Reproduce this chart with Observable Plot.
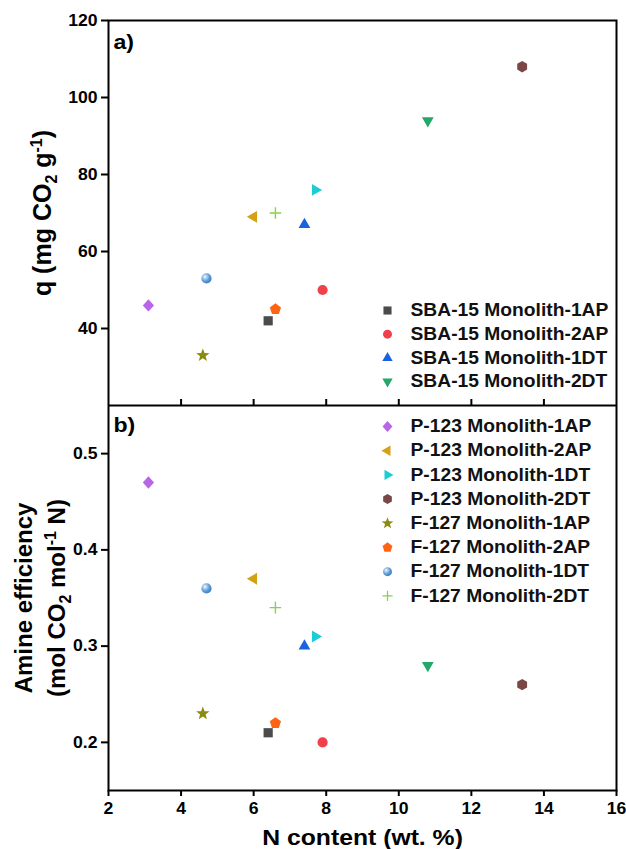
<!DOCTYPE html>
<html><head><meta charset="utf-8">
<script src="https://cdn.jsdelivr.net/npm/d3@7"></script>
<script src="https://cdn.jsdelivr.net/npm/@observablehq/plot@0.6"></script>
<style>
html,body{margin:0;padding:0;background:#fff;overflow:hidden}
#chart{width:626px;height:849px;position:relative}
#chart svg{display:block}
</style></head><body>
<svg width="0" height="0" style="position:absolute"><defs>
<radialGradient id="sphereGrad" cx="0.36" cy="0.34" r="0.72">
<stop offset="0" stop-color="#ffffff"/>
<stop offset="0.22" stop-color="#b3d3f2"/>
<stop offset="0.6" stop-color="#5c9ad6"/>
<stop offset="1" stop-color="#3d78b8"/>
</radialGradient></defs></svg>
<div id="chart"></div>
<script>
// ---- data ----
const samples = [
  "SBA-15 Monolith-1AP", "SBA-15 Monolith-2AP", "SBA-15 Monolith-1DT", "SBA-15 Monolith-2DT",
  "P-123 Monolith-1AP", "P-123 Monolith-2AP", "P-123 Monolith-1DT", "P-123 Monolith-2DT",
  "F-127 Monolith-1AP", "F-127 Monolith-2AP", "F-127 Monolith-1DT", "F-127 Monolith-2DT"
];
const nContent  = [6.4, 7.9, 7.4, 10.8, 3.1, 6.0, 7.7, 13.4, 4.6, 6.6, 4.7, 6.6];
const qValues   = [42, 50, 67, 94, 46, 69, 76, 108, 33, 45, 53, 70];
const effValues = [0.21, 0.20, 0.30, 0.28, 0.47, 0.37, 0.31, 0.26, 0.23, 0.22, 0.36, 0.34];
const markerColors = [
  "#4b4b4b", "#f0404a", "#1a63e0", "#23a86a",
  "#b666e6", "#d4a016", "#1dcdd6", "#7a4747",
  "#8b8b12", "#ff6414", "url(#sphereGrad)", "#86d24c"
];
const xTicks = [2, 4, 6, 8, 10, 12, 14, 16];
const qTicks = [40, 60, 80, 100, 120];
const effTicks = [0.2, 0.3, 0.4, 0.5];
const topLegend = samples.slice(0, 4);
const bottomLegend = samples.slice(4);
const xTitle = "N content (wt. %)";
const qTitle = "q (mg CO2 g-1)";
const effTitle1 = "Amine efficiency";
const effTitle2 = "(mol CO2 mol-1 N)";

// ---- symbols ----
function poly(pts) {
  return {draw(ctx, size) {
    const k = Math.sqrt(size / Math.PI) / 5;
    ctx.moveTo(pts[0][0] * k, pts[0][1] * k);
    for (let i = 1; i < pts.length; i++) ctx.lineTo(pts[i][0] * k, pts[i][1] * k);
    ctx.closePath();
  }};
}
function regular(n, R, rot) {
  return d3.range(n).map(i => { const a = rot + 2 * Math.PI * i / n; return [R * Math.sin(a), -R * Math.cos(a)]; });
}
function starPts(R, r) {
  return d3.range(10).map(i => { const a = Math.PI * i / 5; const rr = i % 2 ? r : R; return [rr * Math.sin(a), -rr * Math.cos(a)]; });
}
const circleSym = {draw(ctx, size) { const r = Math.sqrt(size / Math.PI) * 1.02; ctx.moveTo(r, 0); ctx.arc(0, 0, r, 0, 2 * Math.PI); }};
const t = 0.7, a = 5.8;
const symbolShapes = [
  poly([[-4.6,-4.6],[4.6,-4.6],[4.6,4.6],[-4.6,4.6]]),
  circleSym,
  poly(regular(3, 6.8, 0)),
  poly(regular(3, 6.8, Math.PI)),
  poly([[0,-6.2],[5.6,0],[0,6.2],[-5.6,0]]),
  poly(regular(3, 6.8, -Math.PI / 2)),
  poly(regular(3, 6.8, Math.PI / 2)),
  poly(regular(6, 5.7, 0)),
  poly(starPts(7, 2.9)),
  poly(regular(5, 5.9, 0)),
  circleSym,
  poly([[-t,-a],[t,-a],[t,-t],[a,-t],[a,t],[t,t],[t,a],[-t,a],[-t,t],[-a,t],[-a,-t],[-t,-t]])
];

const rows = samples.map((s, i) => ({name: s, n: nContent[i], q: qValues[i], eff: effValues[i]}));
const FONT = "'Liberation Sans', Arial, Helvetica, sans-serif";
const TICK_FS = 16, LEGEND_FS = 17.5, TITLE_FS = 24;

function legendMarks(items, dx0, dy0, step) {
  return items.flatMap((name, i) => [
    Plot.dot([name], {frameAnchor: "top-left", dx: dx0, dy: dy0 + i * step, symbol: d => d, fill: d => d, r: 4.4}),
    Plot.text([name], {frameAnchor: "top-left", dx: dx0 + 23, dy: dy0 + i * step, text: d => d,
      textAnchor: "start", lineAnchor: "middle", fontSize: LEGEND_FS, fontWeight: "bold", fill: "#111"})
  ]);
}

const common = {
  width: 626, marginLeft: 108, marginRight: 10,
  x: {domain: [2, 16]},
  symbol: {domain: samples, range: symbolShapes},
  color: {domain: samples, range: markerColors},
  style: {fontFamily: FONT, color: "#000", background: "white"}
};

const topPlot = Plot.plot({
  ...common,
  height: 405, marginTop: 20, marginBottom: 0,
  y: {domain: [20, 120]},
  marks: [
    Plot.axisY({ticks: qTicks, tickSize: 7, tickPadding: 4, fontSize: TICK_FS, fontWeight: "bold", label: null, strokeWidth: 2}),
    Plot.axisX({ticks: xTicks.slice(1, -1), tickSize: -6, tickFormat: () => "", label: null, strokeWidth: 2}),
    Plot.frame({stroke: "black", strokeWidth: 2}),
    Plot.dot(rows, {x: "n", y: "q", symbol: "name", fill: "name", r: 5}),
    ...legendMarks(topLegend, 279, 290, 23.7),
    Plot.text(["a)"], {frameAnchor: "top-left", dx: 5, dy: 22, text: d => d, textAnchor: "start", lineAnchor: "middle", fontSize: 21, fontWeight: "bold"}),
    Plot.text([qTitle], {frameAnchor: "left", dx: -66, rotate: -90, text: d => d, textAnchor: "middle", lineAnchor: "middle", fontSize: TITLE_FS + 1, fontWeight: "bold"})
  ]
});

const bottomPlot = Plot.plot({
  ...common,
  height: 444, marginTop: 0, marginBottom: 59,
  y: {domain: [0.15, 0.55]},
  marks: [
    Plot.axisY({ticks: effTicks, tickFormat: ".1f", tickSize: 7, tickPadding: 4, fontSize: TICK_FS, fontWeight: "bold", label: null, strokeWidth: 2}),
    Plot.axisX({ticks: xTicks, tickSize: 6, tickPadding: 6, fontSize: TICK_FS, fontWeight: "bold", label: null, strokeWidth: 2}),
    Plot.frame({stroke: "black", strokeWidth: 2}),
    Plot.dot(rows, {x: "n", y: "eff", symbol: "name", fill: "name", r: 5}),
    ...legendMarks(bottomLegend, 279, 21, 24.2),
    Plot.text(["b)"], {frameAnchor: "top-left", dx: 5, dy: 20, text: d => d, textAnchor: "start", lineAnchor: "middle", fontSize: 21, fontWeight: "bold"}),
    Plot.text([effTitle1], {frameAnchor: "left", dx: -84, rotate: -90, text: d => d, textAnchor: "middle", lineAnchor: "middle", fontSize: TITLE_FS, fontWeight: "bold"}),
    Plot.text([effTitle2], {frameAnchor: "left", dx: -51, rotate: -90, text: d => d, textAnchor: "middle", lineAnchor: "middle", fontSize: TITLE_FS, fontWeight: "bold"}),
    Plot.text([xTitle], {frameAnchor: "bottom", dy: 47, text: d => d, textAnchor: "middle", lineAnchor: "middle", fontSize: 22.5, fontWeight: "bold"})
  ]
});

// rich text (subscripts / superscripts) for axis titles
function rich(svg, plain, parts) {
  d3.select(svg).selectAll("text").filter(function() { return this.textContent === plain; }).each(function() {
    const el = d3.select(this);
    el.text(null);
    let shift = 0;
    for (const [txt, kind] of parts) {
      const ts = el.append("tspan").text(txt);
      const target = kind === "sub" ? 6 : kind === "sup" ? -9 : 0;
      if (target !== shift) ts.attr("dy", target - shift);
      if (kind !== "n") ts.attr("font-size", 16);
      shift = target;
    }
  });
}
rich(topPlot, qTitle, [["q (mg CO", "n"], ["2", "sub"], [" g", "n"], ["-1", "sup"], [")", "n"]]);
rich(bottomPlot, effTitle2, [["(mol CO", "n"], ["2", "sub"], [" mol", "n"], ["-1", "sup"], [" N)", "n"]]);

document.getElementById("chart").append(topPlot, bottomPlot);

// the reference lettering is slightly wide: stretch horizontal text a little
const vertical = new Set([qTitle, effTitle1, effTitle2]);
for (const svg of [topPlot, bottomPlot]) {
  d3.select(svg).selectAll("text").each(function() {
    const s = this.textContent;
    if (!s || vertical.has(s)) return;
    const len = this.getComputedTextLength();
    this.setAttribute("textLength", (len * 1.1).toFixed(2));
    this.setAttribute("lengthAdjust", "spacingAndGlyphs");
  });
}
</script>
</body></html>
